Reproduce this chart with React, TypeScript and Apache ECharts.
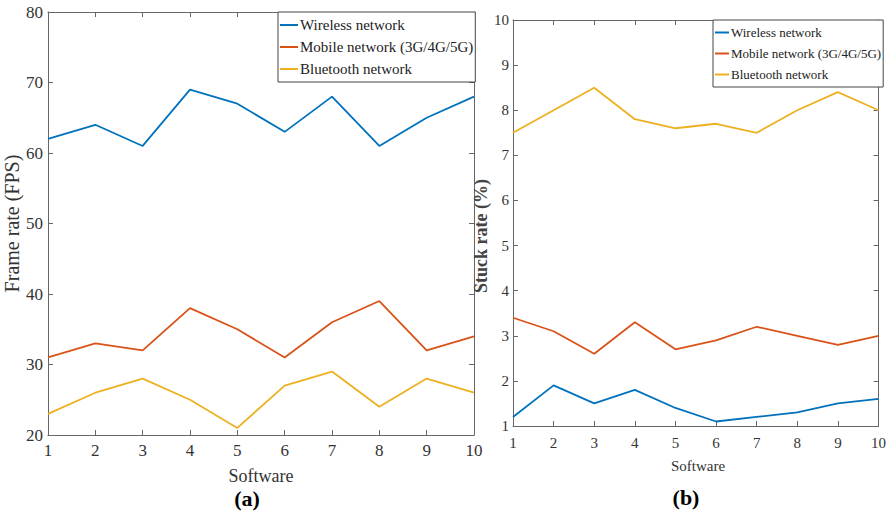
import React, { useEffect, useRef } from "react";
import * as echarts from "echarts";

const software = [1, 2, 3, 4, 5, 6, 7, 8, 9, 10];
const seriesNames = ["Wireless network", "Mobile network (3G/4G/5G)", "Bluetooth network"];
const colors = ["#0072BD", "#D95319", "#EDB120"];
const xTitle = "Software";

// (a) Frame rate (FPS)
const fpsWireless = [62, 64, 61, 69, 67, 63, 68, 61, 65, 68];
const fpsMobile = [31, 33, 32, 38, 35, 31, 36, 39, 32, 34];
const fpsBluetooth = [23, 26, 28, 25, 21, 27, 29, 24, 28, 26];

// (b) Stuck rate (%)
const stuckWireless = [1.2, 1.9, 1.5, 1.8, 1.4, 1.1, 1.2, 1.3, 1.5, 1.6];
const stuckMobile = [3.4, 3.1, 2.6, 3.3, 2.7, 2.9, 3.2, 3.0, 2.8, 3.0];
const stuckBluetooth = [7.5, 8.0, 8.5, 7.8, 7.6, 7.7, 7.5, 8.0, 8.4, 8.0];

const FONT = "'Liberation Serif', 'Times New Roman', serif";
const AXIS_COLOR = "#666";
const LABEL_COLOR = "#333";

const pair = (vals: number[]) => software.map((x, i) => [x, vals[i]]);

export default function App() {
  const ref = useRef<HTMLDivElement>(null);
  useEffect(() => {
    if (!ref.current) return;
    const chart = echarts.init(ref.current, undefined, { renderer: "svg" });

    const xBase = (grid: number, pos: "bottom" | "top", fs: number, margin: number) => ({
      gridIndex: grid,
      type: "value" as const,
      min: 1,
      max: 10,
      interval: 1,
      position: pos,
      axisLine: { show: true, onZero: false, lineStyle: { color: AXIS_COLOR, width: 1 } },
      axisTick: { show: true, inside: true, length: 5, lineStyle: { color: AXIS_COLOR } },
      axisLabel: {
        show: pos === "bottom",
        fontFamily: FONT,
        fontSize: fs,
        color: LABEL_COLOR,
        margin,
      },
      splitLine: { show: false },
    });
    const yBase = (grid: number, pos: "left" | "right", min: number, max: number, interval: number, fs: number, margin: number) => ({
      gridIndex: grid,
      type: "value" as const,
      min,
      max,
      interval,
      position: pos,
      axisLine: { show: true, onZero: false, lineStyle: { color: AXIS_COLOR, width: 1 } },
      axisTick: { show: true, inside: true, length: 5, lineStyle: { color: AXIS_COLOR } },
      axisLabel: {
        show: pos === "left",
        fontFamily: FONT,
        fontSize: fs,
        color: LABEL_COLOR,
        margin,
      },
      splitLine: { show: false },
    });

    const lineSeries = (name: string, vals: number[], idx: number, grid: number) => ({
      name,
      type: "line" as const,
      xAxisIndex: grid * 2,
      yAxisIndex: grid * 2,
      data: pair(vals),
      showSymbol: false,
      symbol: "none",
      lineStyle: { color: colors[idx], width: 1.8 },
      itemStyle: { color: colors[idx] },
      z: 3,
    });

    const legendBase = (left: number, top: number, fs: number, iw: number, lh: number) => ({
      orient: "vertical" as const,
      left,
      top,
      data: seriesNames,
      icon: "rect",
      itemWidth: iw,
      itemHeight: 2,
      itemGap: 0,
      padding: [2, 2, 2, 2],
      borderColor: "#444",
      borderWidth: 1,
      backgroundColor: "#fff",
      selectedMode: false,
      textStyle: { fontFamily: FONT, fontSize: fs, color: "#222", padding: [0, 0, 0, -3], lineHeight: lh },
      z: 10,
    });

    chart.setOption({
      animation: false,
      backgroundColor: "#fff",
      textStyle: { fontFamily: FONT },
      grid: [
        { left: 48, top: 12, width: 426, height: 423, show: false },
        { left: 513, top: 20, width: 370, height: 406, show: false },
      ],
      xAxis: [
        xBase(0, "bottom", 17, 7),
        xBase(0, "top", 17, 7),
        xBase(1, "bottom", 15, 9),
        xBase(1, "top", 15, 9),
      ],
      yAxis: [
        { ...yBase(0, "left", 20, 80, 10, 17, 5), name: "Frame rate (FPS)", nameLocation: "middle", nameGap: 23,
          nameTextStyle: { fontFamily: FONT, fontSize: 20, color: LABEL_COLOR } },
        yBase(0, "right", 20, 80, 10, 17, 5),
        { ...yBase(1, "left", 1, 10, 1, 15, 4), name: "Stuck rate (%)", nameLocation: "middle", nameGap: 18,
          nameTextStyle: { fontFamily: FONT, fontSize: 18, fontWeight: "bold", color: "#444", padding: [0, 26, 0, 0] } },
        yBase(1, "right", 1, 10, 1, 15, 4),
      ],
      legend: [
        legendBase(278, 12, 15, 18, 22),
        legendBase(713, 20, 13, 14, 21),
      ],
      series: [
        lineSeries(seriesNames[0], fpsWireless, 0, 0),
        lineSeries(seriesNames[1], fpsMobile, 1, 0),
        lineSeries(seriesNames[2], fpsBluetooth, 2, 0),
        lineSeries(seriesNames[0], stuckWireless, 0, 1),
        lineSeries(seriesNames[1], stuckMobile, 1, 1),
        lineSeries(seriesNames[2], stuckBluetooth, 2, 1),
      ],
      graphic: [
        { type: "text", x: 261, y: 476, style: { text: xTitle, fontFamily: FONT, fontSize: 18, fill: LABEL_COLOR, textAlign: "center", textVerticalAlign: "middle" } },
        { type: "text", x: 698, y: 466, style: { text: xTitle, fontFamily: FONT, fontSize: 15, fill: LABEL_COLOR, textAlign: "center", textVerticalAlign: "middle" } },
        { type: "text", x: 247, y: 498, style: { text: "(a)", fontFamily: FONT, fontSize: 22, fontWeight: "bold", fill: "#000", textAlign: "center", textVerticalAlign: "middle" } },
        { type: "text", x: 686, y: 497, style: { text: "(b)", fontFamily: FONT, fontSize: 22, fontWeight: "bold", fill: "#000", textAlign: "center", textVerticalAlign: "middle" } },
      ],
    });
    return () => chart.dispose();
  }, []);
  return <div ref={ref} style={{ position: "fixed", left: 0, top: 0, width: 889, height: 515, background: "#fff" }} />;
}
